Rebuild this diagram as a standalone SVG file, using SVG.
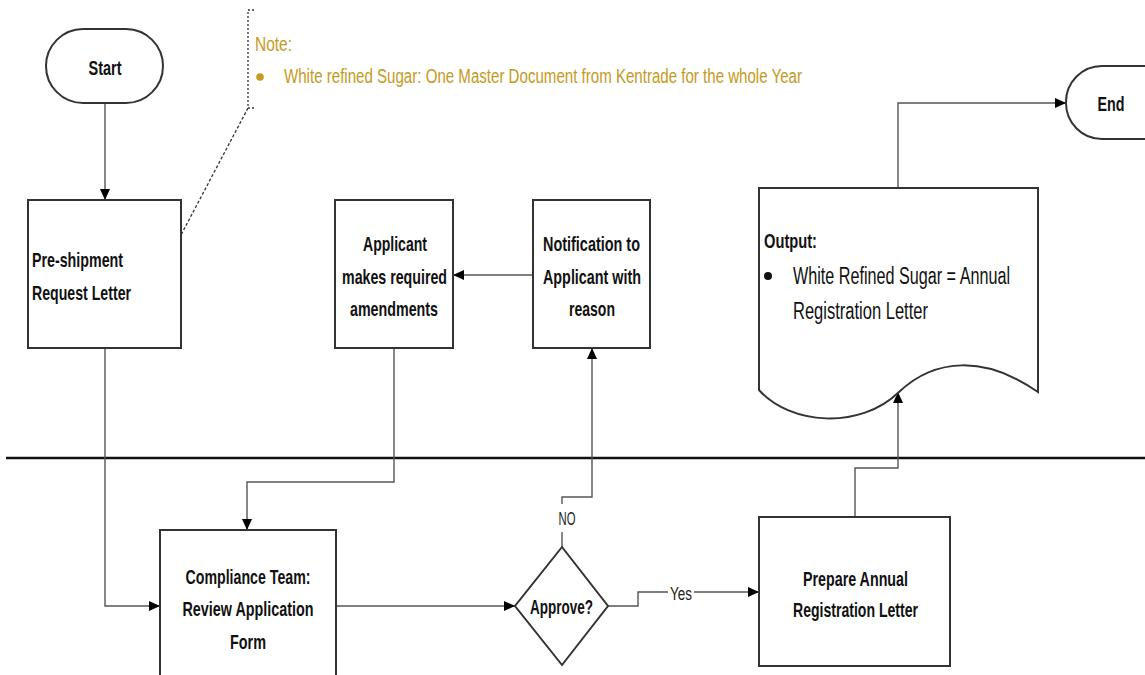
<svg xmlns="http://www.w3.org/2000/svg" width="1145" height="675" viewBox="0 0 1145 675">
<defs>
<style>
.shape{fill:#fff;stroke:#333;stroke-width:2}
.conn{fill:none;stroke:#555;stroke-width:1.4}
.lbl{font-family:"Liberation Sans Narrow","Liberation Sans",Arial,sans-serif;font-weight:bold;font-size:21px;fill:#111}
.reg{font-family:"Liberation Sans Narrow","Liberation Sans",Arial,sans-serif;font-size:23px;fill:#111}
.note{font-family:"Liberation Sans Narrow","Liberation Sans",Arial,sans-serif;font-size:20px;fill:#C49A22}
.small{font-family:"Liberation Sans Narrow","Liberation Sans",Arial,sans-serif;font-size:18px;fill:#222}
</style>
<marker id="arr" markerUnits="userSpaceOnUse" markerWidth="12" markerHeight="10" refX="11" refY="5" orient="auto">
<path d="M0,0 L11,5 L0,10 Z" fill="#000"/>
</marker>
</defs>
<rect width="1145" height="675" fill="#fff"/>

<line x1="6" y1="458" x2="1145" y2="458" stroke="#111" stroke-width="2.6"/>

<g id="note">
<path d="M254,10 H248 V108 H254" fill="none" stroke="#333" stroke-width="1.3" stroke-dasharray="2,2"/>
<line x1="248" y1="108" x2="181" y2="235" stroke="#333" stroke-width="1.3" stroke-dasharray="3,2"/>
<text class="note" x="255" y="51" textLength="37" lengthAdjust="spacingAndGlyphs">Note:</text>
<circle cx="260" cy="77" r="3.8" fill="#C49A22"/>
<text class="note" x="284" y="83" textLength="518" lengthAdjust="spacingAndGlyphs">White refined Sugar: One Master Document from Kentrade for the whole Year</text>
</g>

<g id="connectors">
<path class="conn" d="M105,103 V200" marker-end="url(#arr)"/>
<path class="conn" d="M105,348 V606 H160" marker-end="url(#arr)"/>
<path class="conn" d="M394,348 V482 H247 V530" marker-end="url(#arr)"/>
<path class="conn" d="M336,606 H515" marker-end="url(#arr)"/>
<path class="conn" d="M608,606 H638 V592 H668 M694,592 H759" marker-end="url(#arr)"/>
<text class="small" x="681" y="600" text-anchor="middle" textLength="22" lengthAdjust="spacingAndGlyphs">Yes</text>
<path class="conn" d="M562,547 V532 M562,504 V497 H592 V348" marker-end="url(#arr)"/>
<text class="small" x="567" y="525" text-anchor="middle" font-size="16" textLength="17" lengthAdjust="spacingAndGlyphs">NO</text>
<path class="conn" d="M533,275 H453" marker-end="url(#arr)"/>
<path class="conn" d="M855,517 V468 H898 V392" marker-end="url(#arr)"/>
<path class="conn" d="M898,188 V103 H1066" marker-end="url(#arr)"/>
</g>

<g id="start">
<rect class="shape" x="46" y="29" width="117" height="74" rx="37" ry="37"/>
<text class="lbl" x="105" y="75" text-anchor="middle" textLength="33" lengthAdjust="spacingAndGlyphs">Start</text>
</g>

<g id="end">
<rect class="shape" x="1066" y="66" width="120" height="73" rx="36" ry="36"/>
<text class="lbl" x="1111" y="111" text-anchor="middle" textLength="27" lengthAdjust="spacingAndGlyphs">End</text>
</g>

<g id="preshipment">
<rect class="shape" x="28" y="200" width="153" height="148"/>
<text class="lbl" x="32" y="267" textLength="91" lengthAdjust="spacingAndGlyphs">Pre-shipment</text>
<text class="lbl" x="32" y="300" textLength="99" lengthAdjust="spacingAndGlyphs">Request Letter</text>
</g>

<g id="applicant">
<rect class="shape" x="335" y="200" width="118" height="148"/>
<text class="lbl" x="395" y="251" text-anchor="middle" textLength="64" lengthAdjust="spacingAndGlyphs">Applicant</text>
<text class="lbl" x="394.5" y="284" text-anchor="middle" textLength="105" lengthAdjust="spacingAndGlyphs">makes required</text>
<text class="lbl" x="394" y="316" text-anchor="middle" textLength="88" lengthAdjust="spacingAndGlyphs">amendments</text>
</g>

<g id="notification">
<rect class="shape" x="533" y="200" width="117" height="148"/>
<text class="lbl" x="591.5" y="251" text-anchor="middle" textLength="97" lengthAdjust="spacingAndGlyphs">Notification to</text>
<text class="lbl" x="592" y="284" text-anchor="middle" textLength="98" lengthAdjust="spacingAndGlyphs">Applicant with</text>
<text class="lbl" x="592" y="316" text-anchor="middle" textLength="46" lengthAdjust="spacingAndGlyphs">reason</text>
</g>

<g id="output">
<path class="shape" d="M759,188 H1038 V392 C985,355 935,358 899,392 C860,430 790,425 759,390 Z"/>
<text class="lbl" x="764" y="248" textLength="53" lengthAdjust="spacingAndGlyphs">Output:</text>
<circle cx="768" cy="276" r="4" fill="#111"/>
<text class="reg" x="793" y="284" textLength="217" lengthAdjust="spacingAndGlyphs">White Refined Sugar = Annual</text>
<text class="reg" x="793" y="319" textLength="135" lengthAdjust="spacingAndGlyphs">Registration Letter</text>
</g>

<g id="compliance">
<rect class="shape" x="160" y="530" width="176" height="150"/>
<text class="lbl" x="248" y="584" text-anchor="middle" textLength="125" lengthAdjust="spacingAndGlyphs">Compliance Team:</text>
<text class="lbl" x="248" y="616" text-anchor="middle" textLength="131" lengthAdjust="spacingAndGlyphs">Review Application</text>
<text class="lbl" x="248" y="649" text-anchor="middle" textLength="36" lengthAdjust="spacingAndGlyphs">Form</text>
</g>

<g id="approve">
<path class="shape" d="M562,547 L608,606 L562,665 L515,606 Z"/>
<text class="lbl" x="561.5" y="614" text-anchor="middle" textLength="63" lengthAdjust="spacingAndGlyphs">Approve?</text>
</g>

<g id="prepare">
<rect class="shape" x="759" y="517" width="191" height="149"/>
<text class="lbl" x="855.5" y="586" text-anchor="middle" textLength="105" lengthAdjust="spacingAndGlyphs">Prepare Annual</text>
<text class="lbl" x="855.5" y="617" text-anchor="middle" textLength="125" lengthAdjust="spacingAndGlyphs">Registration Letter</text>
</g>
</svg>
